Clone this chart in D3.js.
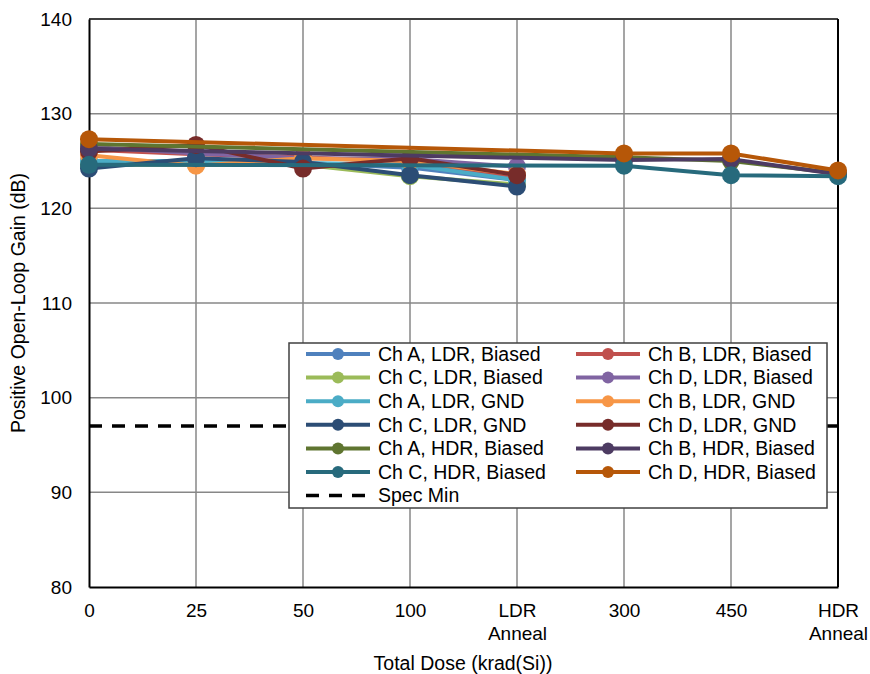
<!DOCTYPE html>
<html>
<head>
<meta charset="utf-8">
<script src="https://cdn.jsdelivr.net/npm/d3@7"></script>
<style>
  body { margin: 0; background: #fff; }
  svg { font-family: "Liberation Sans", Arial, sans-serif; }
</style>
</head>
<body>
<script>
// categories on the x axis (label lines split by \n)
const categories = ["0", "25", "50", "100", "LDR\nAnneal", "300", "450", "HDR\nAnneal"];
const yTicks = [80, 90, 100, 110, 120, 130, 140];
const specMin = 97;

// LDR series: 0..LDR Anneal; HDR series: 0, 300, 450, HDR Anneal
const chA_LDR_Biased = [124.5, 124.9, 124.8, 124.3, 123.0, null, null, null];
const chB_LDR_Biased = [126.2, 125.7, 125.4, 124.9, 123.3, null, null, null];
const chC_LDR_Biased = [124.6, 124.6, 124.6, 123.4, 122.5, null, null, null];
const chD_LDR_Biased = [126.5, 125.8, 125.3, 125.2, 124.4, null, null, null];
const chA_LDR_GND = [125.0, 125.0, 124.8, 124.6, 123.0, null, null, null];
const chB_LDR_GND = [125.6, 124.5, 125.3, 125.0, 123.6, null, null, null];
const chC_LDR_GND = [124.2, 125.3, 124.9, 123.5, 122.3, null, null, null];
const chD_LDR_GND = [126.0, 126.7, 124.2, 125.3, 123.5, null, null, null];
const chA_HDR_Biased = [126.8, null, null, null, null, 125.4, 125.0, 123.7];
const chB_HDR_Biased = [126.3, null, null, null, null, 125.1, 125.2, 123.6];
const chC_HDR_Biased = [124.6, null, null, null, null, 124.5, 123.5, 123.4];
const chD_HDR_Biased = [127.3, null, null, null, null, 125.8, 125.8, 124.0];

const series = [
  { name: "Ch A, LDR, Biased", color: "#4f81bd", values: chA_LDR_Biased },
  { name: "Ch B, LDR, Biased", color: "#c0504d", values: chB_LDR_Biased },
  { name: "Ch C, LDR, Biased", color: "#9bbb59", values: chC_LDR_Biased },
  { name: "Ch D, LDR, Biased", color: "#8064a2", values: chD_LDR_Biased },
  { name: "Ch A, LDR, GND", color: "#4bacc6", values: chA_LDR_GND },
  { name: "Ch B, LDR, GND", color: "#f79646", values: chB_LDR_GND },
  { name: "Ch C, LDR, GND", color: "#2c4d75", values: chC_LDR_GND },
  { name: "Ch D, LDR, GND", color: "#772c2a", values: chD_LDR_GND },
  { name: "Ch A, HDR, Biased", color: "#5f7530", values: chA_HDR_Biased },
  { name: "Ch B, HDR, Biased", color: "#4d3b62", values: chB_HDR_Biased },
  { name: "Ch C, HDR, Biased", color: "#276a7c", values: chC_HDR_Biased },
  { name: "Ch D, HDR, Biased", color: "#b65708", values: chD_HDR_Biased }
];

const width = 870;
const height = 674;
const marginTop = 19;
const marginRight = 32;
const marginBottom = 87;
const marginLeft = 89;
const font = "Liberation Sans, Arial, sans-serif";

const x = d3.scalePoint()
    .domain(categories)
    .range([marginLeft, width - marginRight])
    .padding(0);

const y = d3.scaleLinear()
    .domain([80, 140])
    .range([height - marginBottom, marginTop]);

const svg = d3.select("body")
  .append("svg")
    .attr("width", width)
    .attr("height", height)
    .attr("viewBox", [0, 0, width, height]);

// gridlines
svg.append("g")
    .attr("stroke", "#878787")
    .attr("stroke-width", 1.5)
  .selectAll("line")
  .data(categories.slice(1, -1))
  .join("line")
    .attr("x1", d => x(d)).attr("x2", d => x(d))
    .attr("y1", marginTop).attr("y2", height - marginBottom);

svg.append("g")
    .attr("stroke", "#878787")
    .attr("stroke-width", 1.5)
  .selectAll("line")
  .data(yTicks.slice(1, -1))
  .join("line")
    .attr("x1", marginLeft).attr("x2", width - marginRight)
    .attr("y1", d => y(d)).attr("y2", d => y(d));

// frame
svg.append("line")
    .attr("x1", marginLeft).attr("x2", width - marginRight)
    .attr("y1", y(140)).attr("y2", y(140))
    .attr("stroke", "#404040").attr("stroke-width", 2);
svg.append("line")
    .attr("x1", x(categories[categories.length - 1])).attr("x2", x(categories[categories.length - 1]))
    .attr("y1", marginTop).attr("y2", height - marginBottom)
    .attr("stroke", "#000").attr("stroke-width", 2);

// y axis
svg.append("g")
    .attr("transform", `translate(${marginLeft},0)`)
    .call(d3.axisLeft(y).tickValues(yTicks).tickSize(0).tickPadding(17))
    .call(g => g.select(".domain").attr("stroke", "#000").attr("stroke-width", 2))
    .call(g => g.selectAll("text").attr("font-size", 19).attr("fill", "#000")
        .attr("font-family", font));

// x axis
svg.append("g")
    .attr("transform", `translate(0,${height - marginBottom})`)
    .call(d3.axisBottom(x).tickSize(0).tickFormat(""))
    .call(g => g.select(".domain").attr("stroke", "#000").attr("stroke-width", 2))
    .call(g => g.selectAll(".tick").append("text")
        .attr("fill", "#000")
        .attr("font-size", 19)
        .attr("font-family", font)
        .attr("text-anchor", "middle")
        .selectAll("tspan")
        .data(d => d.split("\n"))
        .join("tspan")
          .attr("x", 0)
          .attr("y", (d, i) => 30 + i * 23)
          .text(d => d));

// axis titles
svg.append("text")
    .attr("transform", `translate(25,${(marginTop + height - marginBottom) / 2}) rotate(-90)`)
    .attr("text-anchor", "middle")
    .attr("font-size", 19.5)
    .text("Positive Open-Loop Gain (dB)");

svg.append("text")
    .attr("x", 463)
    .attr("y", 670)
    .attr("text-anchor", "middle")
    .attr("font-size", 19.5)
    .text("Total Dose (krad(Si))");

// spec min
svg.append("line")
    .attr("x1", marginLeft).attr("x2", width - marginRight)
    .attr("y1", y(specMin)).attr("y2", y(specMin))
    .attr("stroke", "#000").attr("stroke-width", 3.5)
    .attr("stroke-dasharray", "13,10");

// series lines and markers (gaps are bridged)
const line = d3.line()
    .x(d => x(d.cat))
    .y(d => y(d.v));

for (const s of series) {
  const pts = s.values.map((v, i) => ({ cat: categories[i], v })).filter(d => d.v != null);
  svg.append("path")
      .datum(pts)
      .attr("fill", "none")
      .attr("stroke", s.color)
      .attr("stroke-width", 4)
      .attr("stroke-linejoin", "round")
      .attr("d", line);
  svg.append("g")
      .attr("fill", s.color)
    .selectAll("circle")
    .data(pts)
    .join("circle")
      .attr("cx", d => x(d.cat))
      .attr("cy", d => y(d.v))
      .attr("r", 9);
}

// legend
const legend = svg.append("g");
legend.append("rect")
    .attr("x", 289).attr("y", 343)
    .attr("width", 538).attr("height", 165)
    .attr("fill", "#fff")
    .attr("stroke", "#404040").attr("stroke-width", 1.5);

const legendItems = series.map(s => ({ name: s.name, color: s.color, dash: false }))
  .concat([{ name: "Spec Min", color: "#000", dash: true }]);

legendItems.forEach((d, i) => {
  const col = d.dash ? 0 : i % 2;
  const row = d.dash ? 6 : Math.floor(i / 2);
  const lx = col === 0 ? 306 : 576;
  const ly = 354 + row * 23.6;
  const g = legend.append("g").attr("transform", `translate(${lx},${ly})`);
  g.append("line")
      .attr("x1", 0).attr("x2", 64)
      .attr("stroke", d.color)
      .attr("stroke-width", d.dash ? 3.5 : 4)
      .attr("stroke-dasharray", d.dash ? "13,10" : null);
  if (!d.dash) {
    g.append("circle").attr("cx", 32).attr("r", 6).attr("fill", d.color);
  }
  g.append("text")
      .attr("x", 72)
      .attr("dy", "0.35em")
      .attr("font-size", 19.5)
      .text(d.name);
});
</script>
</body>
</html>
